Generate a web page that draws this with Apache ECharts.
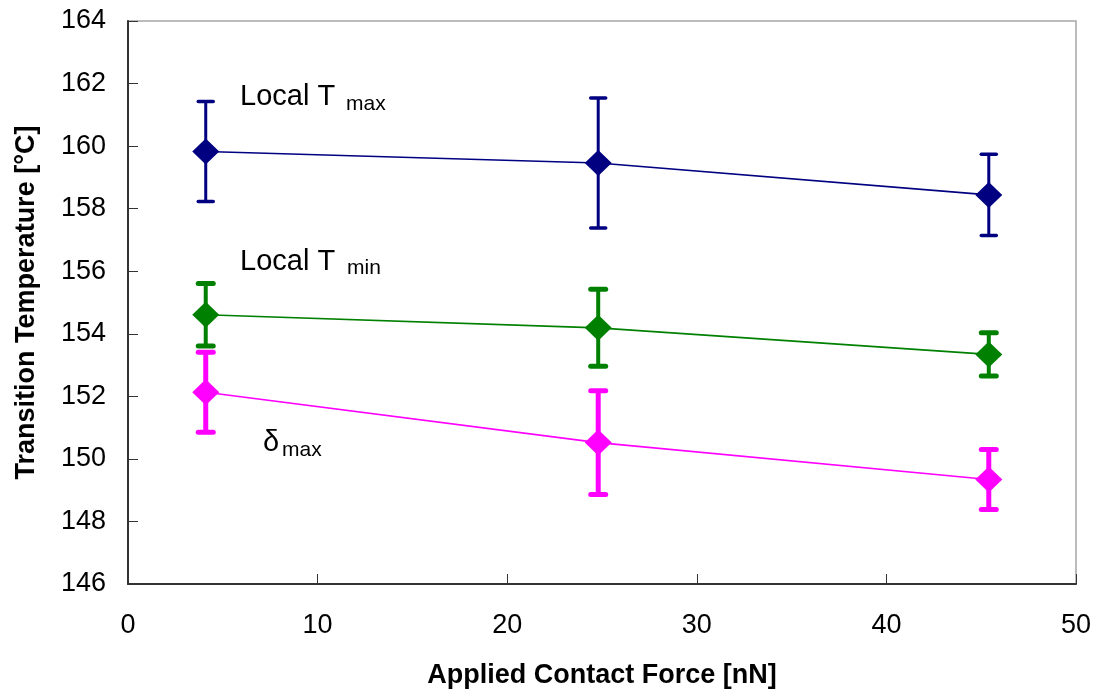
<!DOCTYPE html>
<html>
<head>
<meta charset="utf-8">
<script src="https://cdn.jsdelivr.net/npm/echarts@6/dist/echarts.min.js"></script>
<style>
  html, body { margin: 0; padding: 0; background: #ffffff; }
  #chart { width: 1098px; height: 694px; }
</style>
</head>
<body>
<div id="chart"></div>
<script>
// Applied contact force (nN) for each measurement set
const force = [4.1, 24.8, 45.4];

// Transition temperatures (°C) and their ± error
const tMax = [159.83, 159.46, 158.44];
const tMaxErr = [1.6, 2.08, 1.3];
const tMin = [154.61, 154.19, 153.34];
const tMinErr = [1.0, 1.23, 0.69];
const deltaMax = [152.13, 150.52, 149.34];
const deltaMaxErr = [1.28, 1.66, 0.96];

// Axis tick settings
const yTicks = { min: 146, max: 164, step: 2 };
const xTicks = { min: 0, max: 50, step: 10 };

const FONT = '"Liberation Sans", Arial, sans-serif';

const chart = echarts.init(document.getElementById('chart'), null, { renderer: 'canvas' });

function pairs(xs, ys) {
  return xs.map((x, i) => [x, ys[i]]);
}

function errData(xs, ys, es) {
  return xs.map((x, i) => [x, ys[i] - es[i], ys[i] + es[i]]);
}

// Vertical error bar with flat caps
function errorBarSeries(data, color, barWidth, capWidth, capThick) {
  return {
    type: 'custom',
    data: data,
    z: 2,
    silent: true,
    encode: { x: 0, y: [1, 2] },
    renderItem: function (params, api) {
      const x = api.value(0);
      const lo = api.coord([x, api.value(1)]);
      const hi = api.coord([x, api.value(2)]);
      const half = capWidth / 2;
      return {
        type: 'group',
        children: [
          {
            type: 'line',
            shape: { x1: lo[0], y1: lo[1], x2: hi[0], y2: hi[1] },
            style: { stroke: color, lineWidth: barWidth }
          },
          {
            type: 'line',
            shape: { x1: hi[0] - half, y1: hi[1], x2: hi[0] + half, y2: hi[1] },
            style: { stroke: color, lineWidth: capThick, lineCap: 'round' }
          },
          {
            type: 'line',
            shape: { x1: lo[0] - half, y1: lo[1], x2: lo[0] + half, y2: lo[1] },
            style: { stroke: color, lineWidth: capThick, lineCap: 'round' }
          }
        ]
      };
    }
  };
}

function lineSeries(name, data, color) {
  return {
    name: name,
    type: 'line',
    data: data,
    z: 3,
    symbol: 'diamond',
    symbolSize: [27, 26],
    showSymbol: true,
    lineStyle: { color: color, width: 1.6 },
    itemStyle: { color: color },
    emphasis: { disabled: true }
  };
}

const NAVY = '#000080';
const GREEN = '#008000';
const MAGENTA = '#ff00ff';

const option = {
  backgroundColor: '#ffffff',
  animation: false,
  grid: {
    left: 128,
    right: 22,
    top: 21,
    bottom: 109,
    show: true,
    borderColor: '#a6a6a6',
    borderWidth: 1.5,
    backgroundColor: 'transparent'
  },
  xAxis: {
    type: 'value',
    min: xTicks.min,
    max: xTicks.max,
    interval: xTicks.step,
    name: 'Applied Contact Force [nN]',
    nameLocation: 'middle',
    nameGap: 78,
    nameTextStyle: { fontFamily: FONT, fontSize: 27, fontWeight: 'bold', color: '#000' },
    axisLine: { show: true, lineStyle: { color: '#333', width: 2 } },
    axisTick: { show: true, inside: true, length: 10, lineStyle: { color: '#333', width: 1 } },
    axisLabel: { fontFamily: FONT, fontSize: 27, color: '#000', margin: 28 },
    splitLine: { show: false }
  },
  yAxis: {
    type: 'value',
    min: yTicks.min,
    max: yTicks.max,
    interval: yTicks.step,
    name: 'Transition Temperature [°C]',
    nameLocation: 'middle',
    nameGap: 88,
    nameTextStyle: { fontFamily: FONT, fontSize: 27, fontWeight: 'bold', color: '#000' },
    axisLine: { show: true, lineStyle: { color: '#333', width: 2 } },
    axisTick: { show: true, inside: true, length: 10, lineStyle: { color: '#333', width: 1 } },
    axisLabel: { fontFamily: FONT, fontSize: 27, color: '#000', margin: 22 },
    splitLine: { show: false }
  },
  series: [
    errorBarSeries(errData(force, tMax, tMaxErr), NAVY, 3, 15, 3.5),
    errorBarSeries(errData(force, tMin, tMinErr), GREEN, 4, 15, 5),
    errorBarSeries(errData(force, deltaMax, deltaMaxErr), MAGENTA, 5, 15, 5),
    lineSeries('Local Tmax', pairs(force, tMax), NAVY),
    lineSeries('Local Tmin', pairs(force, tMin), GREEN),
    lineSeries('δmax', pairs(force, deltaMax), MAGENTA)
  ],
  graphic: [
    { type: 'text', left: 240, top: 82, style: { text: 'Local T', font: '29px ' + FONT, fill: '#000' } },
    { type: 'text', left: 346, top: 94, style: { text: 'max', font: '21px ' + FONT, fill: '#000' } },
    { type: 'text', left: 240, top: 247, style: { text: 'Local T', font: '29px ' + FONT, fill: '#000' } },
    { type: 'text', left: 347, top: 258, style: { text: 'min', font: '21px ' + FONT, fill: '#000' } },
    { type: 'text', left: 263, top: 428, style: { text: 'δ', font: '29px ' + FONT, fill: '#000' } },
    { type: 'text', left: 282, top: 440, style: { text: 'max', font: '21px ' + FONT, fill: '#000' } }
  ]
};

chart.setOption(option);
</script>
</body>
</html>
